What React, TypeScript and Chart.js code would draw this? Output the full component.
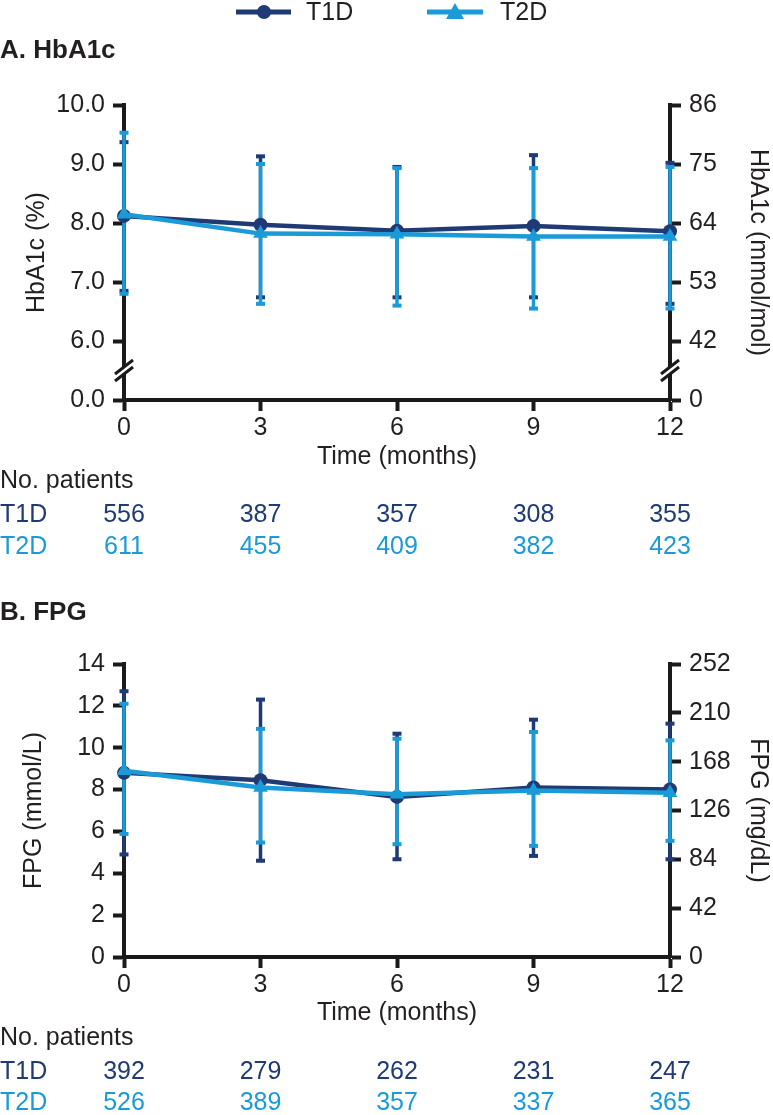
import React, { useEffect, useRef } from "react";
import { Chart, registerables } from "chart.js";
Chart.register(...registerables);

// ---------- data ----------
const months = [0, 3, 6, 9, 12];
const seriesNames = ["T1D", "T2D"];

// Panel A: HbA1c (%)
const hbaT1DMean = [8.12, 7.97, 7.87, 7.95, 7.86];
const hbaT1DUpper = [9.37, 9.13, 8.95, 9.15, 9.02];
const hbaT1DLower = [6.85, 6.74, 6.74, 6.74, 6.63];
const hbaT2DMean = [8.15, 7.82, 7.81, 7.77, 7.77];
const hbaT2DUpper = [9.53, 9.0, 8.93, 8.93, 8.95];
const hbaT2DLower = [6.8, 6.63, 6.6, 6.55, 6.55];
const hbaTickValues = [5, 6, 7, 8, 9, 10];
const hbaLeftLabels = ["0.0", "6.0", "7.0", "8.0", "9.0", "10.0"];
const hbaRightLabels = ["0", "42", "53", "64", "75", "86"];
const hbaPatientsT1D = [556, 387, 357, 308, 355];
const hbaPatientsT2D = [611, 455, 409, 382, 423];

// Panel B: FPG (mmol/L)
const fpgT1DMean = [8.8, 8.45, 7.65, 8.1, 8.0];
const fpgT1DUpper = [12.7, 12.3, 10.67, 11.34, 11.15];
const fpgT1DLower = [4.9, 4.6, 4.67, 4.83, 4.67];
const fpgT2DMean = [8.9, 8.1, 7.78, 7.95, 7.85];
const fpgT2DUpper = [12.1, 10.9, 10.43, 10.75, 10.35];
const fpgT2DLower = [5.88, 5.47, 5.39, 5.31, 5.55];
const fpgPatientsT1D = [392, 279, 262, 231, 247];
const fpgPatientsT2D = [526, 389, 357, 337, 365];

// ---------- styles ----------
const NAVY = "#1f3a75";
const LIGHT = "#1a9bd7";
const AXIS = "#1a1a1a";
const TEXT = "#231f20";
const FAMILY = "'Liberation Sans', Arial, Helvetica, sans-serif";
const FSIZE = 25;
const FONT = { family: FAMILY, size: FSIZE };
const W = 773;
const PLOT_LEFT = 124;
const PLOT_RIGHT = 670;
const AXIS_W = 4;

type Series = { mean: number[]; upper: number[]; lower: number[]; n: number[] };
type Panel = {
  top: number;
  height: number;
  chartTop: number;
  chartBottom: number;
  xTitleY: number;
  titleText: string;
  titleY: number;
  rowsY: number[];
  legend: boolean;
  yMin: number;
  yMax: number;
  yStep: number;
  yLabel: (v: number) => string;
  y2Min: number;
  y2Max: number;
  y2Step: number;
  y2Label: (v: number) => string;
  yTitle: string;
  y2Title: string;
  yTitlePad: number;
  breakAt: number | null;
  t1d: Series;
  t2d: Series;
};

const panelA: Panel = {
  top: 0,
  height: 590,
  chartTop: 105,
  chartBottom: 400,
  xTitleY: 457,
  titleText: "A. HbA1c",
  titleY: 51,
  rowsY: [481, 515, 547],
  legend: true,
  yMin: 5,
  yMax: 10,
  yStep: 1,
  yLabel: (v) => hbaLeftLabels[hbaTickValues.indexOf(v)] ?? "",
  y2Min: 5,
  y2Max: 10,
  y2Step: 1,
  y2Label: (v) => hbaRightLabels[hbaTickValues.indexOf(v)] ?? "",
  yTitle: "HbA1c (%)",
  y2Title: "HbA1c (mmol/mol)",
  yTitlePad: 22,
  breakAt: 5.5,
  t1d: { mean: hbaT1DMean, upper: hbaT1DUpper, lower: hbaT1DLower, n: hbaPatientsT1D },
  t2d: { mean: hbaT2DMean, upper: hbaT2DUpper, lower: hbaT2DLower, n: hbaPatientsT2D },
};

const panelB: Panel = {
  top: 590,
  height: 525,
  chartTop: 74,
  chartBottom: 367,
  xTitleY: 423,
  titleText: "B. FPG",
  titleY: 23,
  rowsY: [448, 482, 513],
  legend: false,
  yMin: 0,
  yMax: 14,
  yStep: 2,
  yLabel: (v) => String(v),
  y2Min: 0,
  y2Max: 252,
  y2Step: 42,
  y2Label: (v) => String(v),
  yTitle: "FPG (mmol/L)",
  y2Title: "FPG (mg/dL)",
  yTitlePad: 19,
  breakAt: null,
  t1d: { mean: fpgT1DMean, upper: fpgT1DUpper, lower: fpgT1DLower, n: fpgPatientsT1D },
  t2d: { mean: fpgT2DMean, upper: fpgT2DUpper, lower: fpgT2DLower, n: fpgPatientsT2D },
};

function buildConfig(p: Panel): any {
  const lineHalf = (FSIZE * 1.2) / 2;
  const xHeight = p.xTitleY + lineHalf - p.chartBottom;
  const padBottom = p.height - p.chartBottom - xHeight;

  const errorBars = {
    id: "errorBars",
    beforeDatasetsDraw(chart: any) {
      const { ctx, scales } = chart;
      const xs = scales.x;
      const ys = scales.y;
      const sets = [
        { s: p.t1d, c: NAVY },
        { s: p.t2d, c: LIGHT },
      ];
      ctx.save();
      for (const { s, c } of sets) {
        ctx.strokeStyle = c;
        ctx.fillStyle = c;
        ctx.lineWidth = 3.5;
        months.forEach((m, i) => {
          const px = xs.getPixelForValue(m);
          const t = ys.getPixelForValue(s.upper[i]);
          const b = ys.getPixelForValue(s.lower[i]);
          ctx.beginPath();
          ctx.moveTo(px, t);
          ctx.lineTo(px, b);
          ctx.stroke();
          ctx.fillRect(px - 4.5, t - 2, 9, 4);
          ctx.fillRect(px - 4.5, b - 2, 9, 4);
        });
      }
      ctx.restore();
    },
  };

  const decor = {
    id: "decor",
    afterDraw(chart: any) {
      const { ctx, scales, chartArea } = chart;
      const xs = scales.x;
      ctx.save();
      // axis breaks
      if (p.breakAt !== null) {
        const by = scales.y.getPixelForValue(p.breakAt);
        for (const ax of [chartArea.left, chartArea.right]) {
          ctx.fillStyle = "#ffffff";
          ctx.beginPath();
          ctx.moveTo(ax - 4, by + 6);
          ctx.lineTo(ax + 4, by + 0);
          ctx.lineTo(ax + 4, by - 6);
          ctx.lineTo(ax - 4, by - 0);
          ctx.closePath();
          ctx.fill();
          ctx.strokeStyle = AXIS;
          ctx.lineWidth = 3;
          for (const d of [-3.5, 3.5]) {
            ctx.beginPath();
            ctx.moveTo(ax - 9, by + d + 7);
            ctx.lineTo(ax + 9, by + d - 7);
            ctx.stroke();
          }
        }
      }
      // panel title
      ctx.fillStyle = TEXT;
      ctx.textBaseline = "middle";
      ctx.textAlign = "left";
      ctx.font = `bold 26px ${FAMILY}`;
      ctx.fillText(p.titleText, 0, p.titleY);
      // legend
      if (p.legend) {
        const ly = 12;
        ctx.lineWidth = 5;
        ctx.strokeStyle = NAVY;
        ctx.beginPath();
        ctx.moveTo(236, ly);
        ctx.lineTo(291, ly);
        ctx.stroke();
        ctx.fillStyle = NAVY;
        ctx.beginPath();
        ctx.arc(264, ly, 7, 0, Math.PI * 2);
        ctx.fill();
        ctx.strokeStyle = LIGHT;
        ctx.beginPath();
        ctx.moveTo(427, ly);
        ctx.lineTo(483, ly);
        ctx.stroke();
        ctx.fillStyle = LIGHT;
        ctx.beginPath();
        ctx.moveTo(455, ly - 9);
        ctx.lineTo(446, ly + 7);
        ctx.lineTo(464, ly + 7);
        ctx.closePath();
        ctx.fill();
        ctx.font = `${FSIZE}px ${FAMILY}`;
        ctx.fillStyle = TEXT;
        ctx.textAlign = "left";
        ctx.fillText(seriesNames[0], 306, ly + 1);
        ctx.fillText(seriesNames[1], 500, ly + 1);
      }
      // patients table
      ctx.font = `${FSIZE}px ${FAMILY}`;
      ctx.textAlign = "left";
      ctx.fillStyle = TEXT;
      ctx.fillText("No. patients", 0, p.rowsY[0]);
      const rows = [
        { name: seriesNames[0], n: p.t1d.n, c: NAVY },
        { name: seriesNames[1], n: p.t2d.n, c: LIGHT },
      ];
      rows.forEach((r, k) => {
        const yy = p.rowsY[k + 1];
        ctx.fillStyle = r.c;
        ctx.textAlign = "left";
        ctx.fillText(r.name, 0, yy);
        ctx.textAlign = "center";
        months.forEach((m, i) => {
          ctx.fillText(String(r.n[i]), xs.getPixelForValue(m), yy);
        });
      });
      ctx.restore();
    },
  };

  const axisGrid = (len: number) => ({
    drawOnChartArea: false,
    drawTicks: true,
    tickLength: len,
    tickWidth: AXIS_W,
    tickColor: AXIS,
  });
  const border = { display: true, color: AXIS, width: AXIS_W };

  return {
    type: "line",
    data: {
      datasets: [
        {
          label: seriesNames[0],
          data: months.map((m, i) => ({ x: m, y: p.t1d.mean[i] })),
          borderColor: NAVY,
          backgroundColor: NAVY,
          borderWidth: 4.5,
          pointStyle: "circle",
          pointRadius: 7,
          pointBorderWidth: 0,
          tension: 0,
          clip: false,
          order: 1,
        },
        {
          label: seriesNames[1],
          data: months.map((m, i) => ({ x: m, y: p.t2d.mean[i] })),
          borderColor: LIGHT,
          backgroundColor: LIGHT,
          borderWidth: 4.5,
          pointStyle: "triangle",
          pointRadius: 8.5,
          pointBorderWidth: 0,
          tension: 0,
          clip: false,
          order: 0,
        },
      ],
    },
    options: {
      responsive: false,
      animation: false,
      devicePixelRatio: 1,
      layout: { padding: { top: p.chartTop, bottom: padBottom, left: 0, right: 0 } },
      plugins: {
        legend: { display: false },
        tooltip: { enabled: false },
        title: { display: false },
      },
      scales: {
        x: {
          type: "linear",
          position: "bottom",
          min: 0,
          max: 12,
          ticks: { stepSize: 3, font: FONT, color: TEXT, padding: 2, maxRotation: 0 },
          grid: axisGrid(11),
          border,
          title: { display: true, text: "Time (months)", font: FONT, color: TEXT, padding: 0 },
          afterFit: (s: any) => {
            s.height = xHeight;
          },
        },
        y: {
          type: "linear",
          position: "left",
          min: p.yMin,
          max: p.yMax,
          ticks: {
            stepSize: p.yStep,
            font: FONT,
            color: TEXT,
            padding: 8,
            callback: (v: any) => p.yLabel(Number(v)),
          },
          grid: axisGrid(11),
          border,
          title: {
            display: true,
            text: p.yTitle,
            font: FONT,
            color: TEXT,
            padding: { top: p.yTitlePad, bottom: 0 },
          },
          afterFit: (s: any) => {
            s.width = PLOT_LEFT;
          },
        },
        y2: {
          type: "linear",
          position: "right",
          min: p.y2Min,
          max: p.y2Max,
          ticks: {
            stepSize: p.y2Step,
            font: FONT,
            color: TEXT,
            padding: 8,
            callback: (v: any) => p.y2Label(Number(v)),
          },
          grid: axisGrid(11),
          border,
          title: {
            display: true,
            text: p.y2Title,
            font: FONT,
            color: TEXT,
            padding: { top: 0, bottom: 0 },
          },
          afterFit: (s: any) => {
            s.width = W - PLOT_RIGHT;
          },
        },
      },
    },
    plugins: [errorBars, decor],
  };
}

function PanelChart({ p }: { p: Panel }) {
  const ref = useRef<HTMLCanvasElement>(null);
  useEffect(() => {
    const chart = new Chart(ref.current as HTMLCanvasElement, buildConfig(p));
    return () => chart.destroy();
  }, [p]);
  return (
    <canvas
      ref={ref}
      width={W}
      height={p.height}
      style={{ position: "absolute", left: 0, top: p.top, width: W, height: p.height, display: "block" }}
    />
  );
}

export default function App() {
  return (
    <div style={{ position: "absolute", left: 0, top: 0, width: W, height: 1115, background: "#ffffff" }}>
      <PanelChart p={panelA} />
      <PanelChart p={panelB} />
    </div>
  );
}
